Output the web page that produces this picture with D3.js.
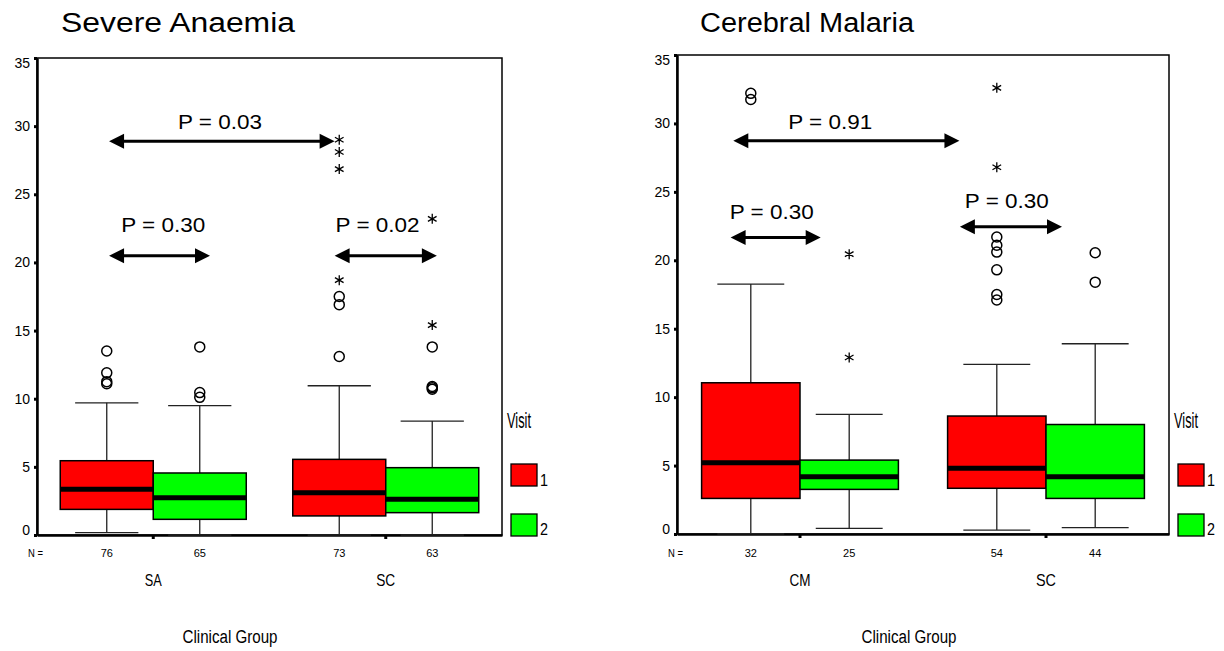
<!DOCTYPE html>
<html>
<head>
<meta charset="utf-8">
<script src="https://cdn.jsdelivr.net/npm/d3@7"></script>
<style>
  body { margin: 0; background: #fff; }
  svg text { font-family: "Liberation Sans", Arial, sans-serif; fill: #000; }
</style>
</head>
<body>
<svg width="1224" height="651"></svg>
<script>
// ---- data ----
const visits = ["1", "2"];
const yTicks = [0, 5, 10, 15, 20, 25, 30, 35];

// Severe Anaemia panel
const saGroups = ["SA", "SC"];
const saCounts = [[76, 65], [73, 63]];
// [low whisker, q1, median, q3, high whisker] for visit 1 and 2
const saStats = [
  [[0.17, 1.88, 3.35, 5.45, 9.7], [0, 1.15, 2.74, 4.55, 9.5]],
  [[0, 1.4, 3.1, 5.55, 10.95], [0, 1.64, 2.62, 4.94, 8.36]]
];
const saCircles = [
  [[11.1, 11.25, 11.9, 13.5], [10.1, 10.45, 13.8]],
  [[13.1, 16.9, 17.5], [10.7, 10.8, 10.9, 13.8]]
];
const saStars = [
  [[], []],
  [[18.7, 26.85, 28.1, 29.0], [15.4, 23.2]]
];
// arrows: from / to in group units (0..2), value level, label, label centre, label level
const saArrows = [
  { from: 0.31, to: 1.28, at: 28.9, label: "P = 0.03", lx: 0.787, ly: 29.76 },
  { from: 0.31, to: 0.744, at: 20.49, label: "P = 0.30", lx: 0.543, ly: 22.25 },
  { from: 1.28, to: 1.72, at: 20.49, label: "P = 0.02", lx: 1.465, ly: 22.25 }
];

// Cerebral Malaria panel
const cmGroups = ["CM", "SC"];
const cmCounts = [[32, 25], [54, 44]];
const cmStats = [
  [[0.02, 2.6, 5.2, 11.05, 18.26], [0.41, 3.26, 4.19, 5.4, 8.74]],
  [[0.29, 3.34, 4.8, 8.62, 12.4], [0.46, 2.6, 4.19, 8.0, 13.9]]
];
const cmCircles = [
  [[31.75, 32.2], []],
  [[17.1, 17.5, 19.3, 20.6, 21.1, 21.7], [18.4, 20.55]]
];
const cmStars = [
  [[], [12.9, 20.45]],
  [[26.8, 32.6], []]
];
const cmArrows = [
  { from: 0.229, to: 1.148, at: 28.73, label: "P = 0.91", lx: 0.623, ly: 29.6 },
  { from: 0.218, to: 0.584, at: 21.67, label: "P = 0.30", lx: 0.385, ly: 23.0 },
  { from: 1.15, to: 1.565, at: 22.45, label: "P = 0.30", lx: 1.341, ly: 23.8 }
];

const visitColors = ["#ff0000", "#00ff00"];

const svg = d3.select("svg");

function txt(g, s, x, y, size, opts) {
  opts = opts || {};
  const t = g.append("text")
    .attr("x", x).attr("y", y)
    .attr("text-anchor", opts.anchor || "start")
    .style("font-size", size + "px")
    .text(s);
  if (opts.width) t.attr("textLength", opts.width).attr("lengthAdjust", "spacingAndGlyphs");
  return t;
}

function drawPanel(p) {
  const g = svg.append("g");
  const y = d3.scaleLinear().domain([0, 35]).range([p.bottom, p.top]);
  const x = d3.scaleBand().domain(p.groups).range([p.left, p.right])
    .paddingInner(0.2).paddingOuter(0.1);
  const xv = d3.scaleBand().domain(visits).range([0, x.bandwidth()]);
  const xa = d3.scaleLinear().domain([0, 2]).range([p.left, p.right]);
  const bw = xv.bandwidth();

  // title
  txt(g, p.title, p.titleX, 32, 27, { width: p.titleW });

  // frame (top / right)
  g.append("rect")
    .attr("x", p.left).attr("y", p.top)
    .attr("width", p.right - p.left).attr("height", p.bottom - p.top)
    .attr("fill", "none").attr("stroke", "#000").attr("stroke-width", 1.5);

  // y axis
  const ya = g.append("g")
    .attr("transform", "translate(" + p.left + ",0)")
    .call(d3.axisLeft(y).tickValues(yTicks).tickSize(3).tickSizeOuter(0).tickPadding(4));
  ya.select(".domain").attr("stroke-width", 2.5);
  ya.selectAll(".tick line").attr("stroke-width", 3);
  ya.selectAll(".tick text")
    .style("font-size", "14px")
    .attr("font-family", null)
    .attr("dy", d => d == 0 ? "-0.05em" : d == 35 ? "0.7em" : "0.32em");

  // x axis
  const xaxis = g.append("g")
    .attr("transform", "translate(0," + p.bottom + ")")
    .call(d3.axisBottom(x).tickSize(4).tickSizeOuter(0).tickFormat(""));
  xaxis.select(".domain").attr("stroke-width", 2.5);
  xaxis.selectAll(".tick line").attr("stroke-width", 3);

  // boxes
  p.groups.forEach((grp, gi) => {
    visits.forEach((v, vi) => {
      const s = p.stats[gi][vi];
      const x0 = x(grp) + xv(v);
      const cx = x0 + bw / 2;
      const capW = bw * 0.68;
      const bg = g.append("g");
      // whiskers
      bg.append("line").attr("x1", cx).attr("x2", cx)
        .attr("y1", y(s[3])).attr("y2", y(s[4]))
        .attr("stroke", "#222").attr("stroke-width", 1.3);
      bg.append("line").attr("x1", cx).attr("x2", cx)
        .attr("y1", y(s[1])).attr("y2", y(s[0]))
        .attr("stroke", "#222").attr("stroke-width", 1.3);
      [s[0], s[4]].forEach(w => {
        bg.append("line").attr("x1", cx - capW / 2).attr("x2", cx + capW / 2)
          .attr("y1", y(w)).attr("y2", y(w))
          .attr("stroke", "#222").attr("stroke-width", 1.3);
      });
      bg.append("rect")
        .attr("x", x0).attr("y", y(s[3]))
        .attr("width", bw).attr("height", y(s[1]) - y(s[3]))
        .attr("fill", visitColors[vi]).attr("stroke", "#000").attr("stroke-width", 1.5);
      bg.append("line").attr("x1", x0).attr("x2", x0 + bw)
        .attr("y1", y(s[2])).attr("y2", y(s[2]))
        .attr("stroke", "#000").attr("stroke-width", 5);
      // outliers
      p.circles[gi][vi].forEach(o => {
        bg.append("circle").attr("cx", cx).attr("cy", y(o)).attr("r", 5)
          .attr("fill", "none").attr("stroke", "#000").attr("stroke-width", 1.5);
      });
      p.stars[gi][vi].forEach(o => {
        bg.append("path")
          .attr("d", d3.symbol(d3.symbolAsterisk, 70)())
          .attr("transform", "translate(" + cx + "," + y(o) + ")")
          .attr("fill", "none").attr("stroke", "#000").attr("stroke-width", 1.3);
      });
      // N
      txt(g, p.counts[gi][vi], cx, 557, 11, { anchor: "middle" });
    });
    txt(g, grp, x(grp) + x.bandwidth() / 2, 586, 17,
      { anchor: "middle", width: p.groupW[gi] });
  });
  txt(g, "N =", p.left - 9, 557, 11, { width: 15 });

  // arrows
  p.arrows.forEach(a => {
    const xl = xa(a.from), xr = xa(a.to), yy = y(a.at);
    g.append("line").attr("x1", xl + 8).attr("x2", xr - 8)
      .attr("y1", yy).attr("y2", yy)
      .attr("stroke", "#000").attr("stroke-width", 3);
    g.append("path")
      .attr("d", "M" + xl + "," + yy + "L" + (xl + 15) + "," + (yy - 7.5) + "L" + (xl + 15) + "," + (yy + 7.5) + "Z")
      .attr("fill", "#000");
    g.append("path")
      .attr("d", "M" + xr + "," + yy + "L" + (xr - 15) + "," + (yy - 7.5) + "L" + (xr - 15) + "," + (yy + 7.5) + "Z")
      .attr("fill", "#000");
    txt(g, a.label, xa(a.lx), y(a.ly), 20, { anchor: "middle", width: 84 });
  });

  // legend
  const lx = p.right + 5;
  txt(g, "Visit", lx, 428, 22, { width: 24 });
  visits.forEach((v, vi) => {
    g.append("rect")
      .attr("x", lx + 4).attr("y", 464 + vi * 50)
      .attr("width", 26).attr("height", 22)
      .attr("fill", visitColors[vi]).attr("stroke", "#000").attr("stroke-width", 1.3);
    txt(g, v, lx + 33, 486 + vi * 49, 17, { width: 8 });
  });

  // x axis title
  txt(g, "Clinical Group", p.xTitleX, 643, 18, { anchor: "middle", width: 95 });
}

drawPanel({
  title: "Severe Anaemia", titleX: 61, titleW: 234,
  left: 37, right: 502, top: 58, bottom: 535,
  groups: saGroups, counts: saCounts, stats: saStats,
  circles: saCircles, stars: saStars, arrows: saArrows,
  groupW: [17, 19], xTitleX: 230
});

drawPanel({
  title: "Cerebral Malaria", titleX: 700, titleW: 214,
  left: 677, right: 1169, top: 55, bottom: 534,
  groups: cmGroups, counts: cmCounts, stats: cmStats,
  circles: cmCircles, stars: cmStars, arrows: cmArrows,
  groupW: [21, 20], xTitleX: 909
});
</script>
</body>
</html>
